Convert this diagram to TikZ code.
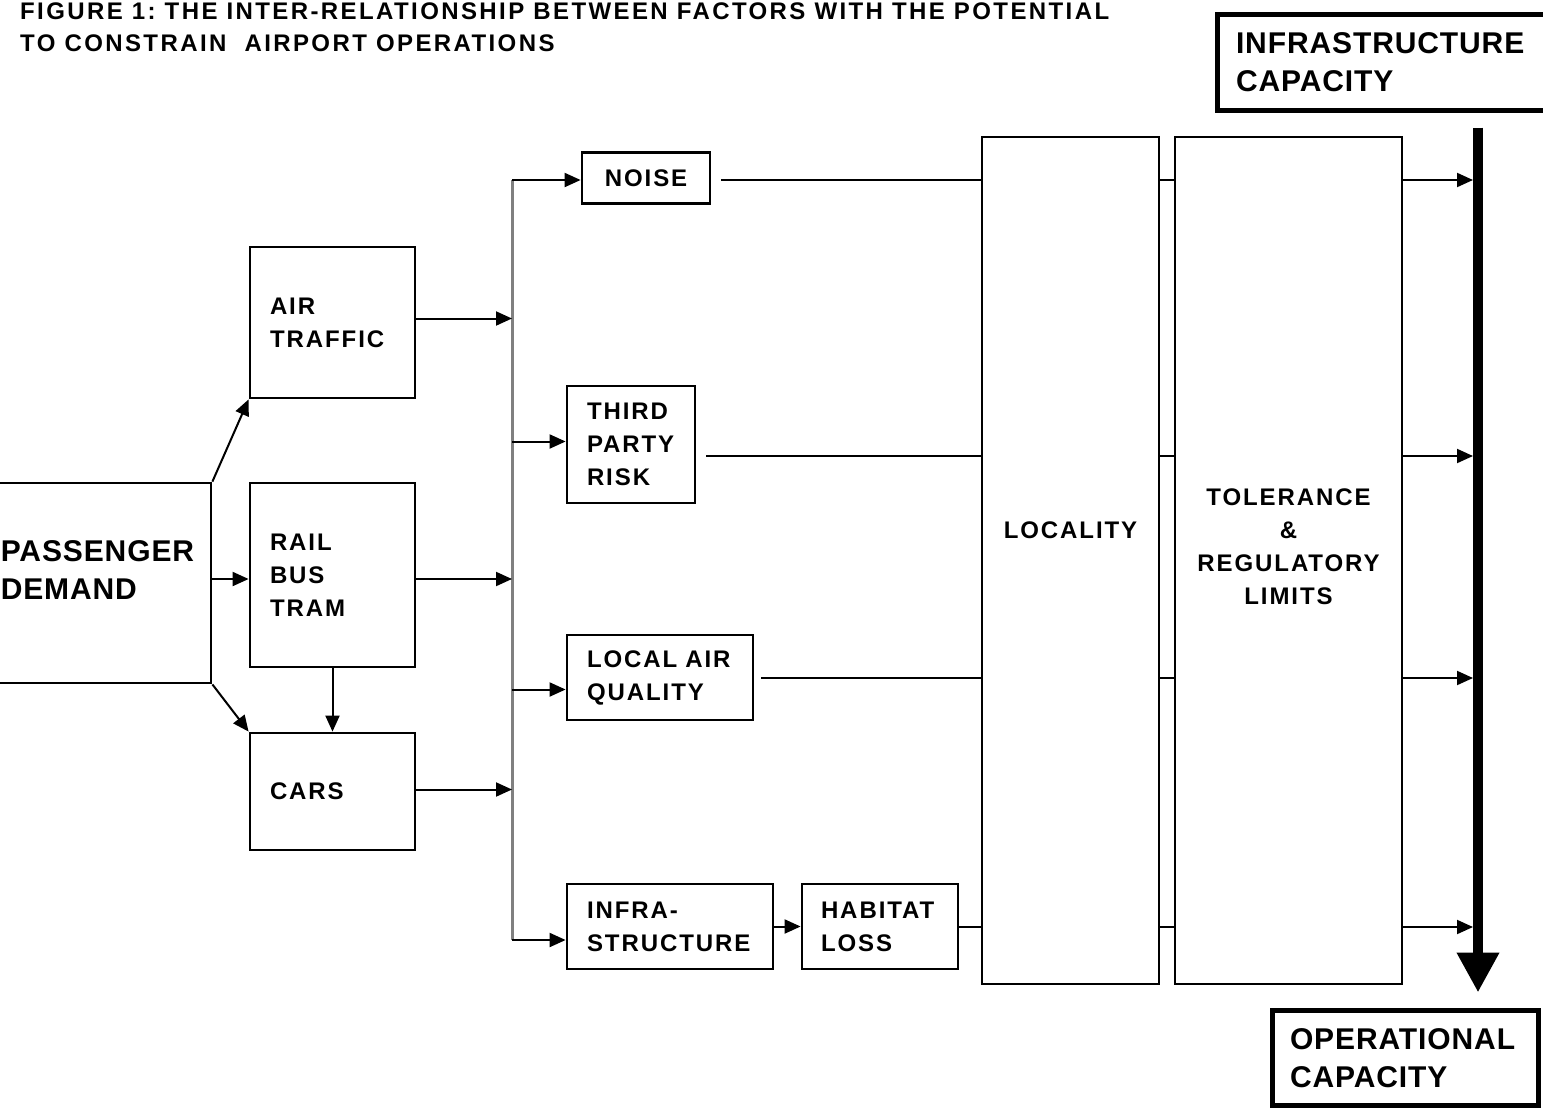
\documentclass[tikz,border=0pt]{standalone}
\usepackage{fontspec}
\setmainfont{Liberation Sans}
\newfontfamily\figtitleface[LetterSpace=10]{Liberation Sans}
\newfontfamily\factorface[LetterSpace=8]{Liberation Sans}
\newfontfamily\capacityface[LetterSpace=3]{Liberation Sans}
\newcommand\figtitlefont{\figtitleface\bfseries\fontsize{24}{32}\selectfont}
\newcommand\factorfont{\factorface\bfseries\fontsize{24}{33}\selectfont}
\newcommand\capacityfont{\capacityface\bfseries\fontsize{30}{38}\selectfont}
\hyphenpenalty=10000
\frenchspacing
\usetikzlibrary{arrows.meta}

\tikzset{
  factor/.style={draw,line width=2.8pt,inner sep=0pt,align=left,font=\factorfont},
  capacity/.style={draw,line width=5pt,inner sep=0pt,align=left,font=\capacityfont},
  link/.style={line width=2pt},
  arr/.style={link,-{Triangle[length=16pt,width=14pt]}},
  bus/.style={line width=3pt,gray},
  bar/.style={line width=10pt,-{Triangle[length=40pt,width=40pt]}}
}

\begin{document}
\begin{tikzpicture}[x=1pt,y=-1pt]
\clip (0,0) rectangle (1543,1109);
\fill[white] (0,0) rectangle (1543,1109);

\node[anchor=north west,inner sep=0pt,align=left,font=\figtitlefont] (title) at (20,3)
  {FIGURE 1: THE INTER-RELATIONSHIP BETWEEN FACTORS WITH THE POTENTIAL\\TO CONSTRAIN\ \ AIRPORT OPERATIONS};

% demand and modes
\node[factor,minimum width=262pt,minimum height=200pt,
  label={[font=\capacityfont,align=left,inner sep=0pt,anchor=west,xshift=53pt,yshift=13pt]west:PASSENGER\\DEMAND}]
  (demand) at (80,583) {};
\node[factor,minimum width=165pt,minimum height=151pt,text width=125pt] (air) at (332.5,322.5) {AIR\\TRAFFIC};
\node[factor,minimum width=165pt,minimum height=184pt,text width=125pt] (rail) at (332.5,575) {RAIL\\BUS\\TRAM};
\node[factor,minimum width=165pt,minimum height=117pt,text width=125pt] (cars) at (332.5,791.5) {CARS};

% impacts
\node[factor,minimum width=128pt,minimum height=51pt] (noise) at (646,178) {NOISE};
\node[factor,minimum width=128pt,minimum height=117pt,text width=88pt] (risk) at (631,444.5) {THIRD\\PARTY\\RISK};
\node[factor,minimum width=186pt,minimum height=85pt,text width=146pt] (airq) at (660,677.5) {LOCAL AIR\\QUALITY};
\node[factor,minimum width=206pt,minimum height=85pt,text width=166pt] (infra) at (670,926.5) {INFRA-\\STRUCTURE};
\node[factor,minimum width=156pt,minimum height=85pt,text width=118pt] (habitat) at (880,926.5) {HABITAT\\LOSS};

% limits
\node[factor,minimum width=177pt,minimum height=847pt,
  label={[font=\factorfont,yshift=30.5pt]center:LOCALITY}] (locality) at (1070.5,560.5) {};
\node[factor,minimum width=227pt,minimum height=847pt,
  label={[font=\factorfont,align=center,yshift=14pt]center:TOLERANCE\\\&\\REGULATORY\\LIMITS}] (tolerance) at (1288.5,560.5) {};

% capacities
\node[capacity,minimum width=346pt,minimum height=96pt,text width=308pt] (infracap) at (1390,62) {INFRASTRUCTURE\\CAPACITY};
\node[capacity,minimum width=266pt,minimum height=95pt,text width=230pt] (opcap) at (1405,1058) {OPERATIONAL\\CAPACITY};

\coordinate (bustop) at (512,180);
\coordinate (busend) at (512,940);
\coordinate (barx) at (1478,0);
\coordinate (r1) at (1473,180);
\coordinate (r2) at (1473,456);
\coordinate (r3) at (1473,678);
\coordinate (r4) at (1473,927);

% demand to modes
\draw[arr] (demand.north east) -- (air.south west);
\draw[arr] ([yshift=-4pt]demand.east |- rail.west) -- ([yshift=-4pt]rail.west);
\draw[arr] (demand.south east) -- (cars.north west);
\draw[arr] (rail.south) -- (cars.north);

% modes to bus
\draw[bus] (bustop) -- (busend);
\draw[arr] ([yshift=4pt]air.east) -- ([yshift=4pt]air.east -| bustop);
\draw[arr] ([yshift=-4pt]rail.east) -- ([yshift=-4pt]rail.east -| bustop);
\draw[arr] ([yshift=2pt]cars.east) -- ([yshift=2pt]cars.east -| bustop);

% bus to impacts
\draw[arr] (bustop) -- (bustop -| noise.west);
\draw[arr] ([yshift=3pt]bustop |- risk.west) -- ([yshift=3pt]risk.west);
\draw[arr] ([yshift=-12pt]bustop |- airq.west) -- ([yshift=-12pt]airq.west);
\draw[arr] (busend) -- (busend -| infra.west);
\draw[arr] (infra.east) -- (habitat.west);

% impacts to locality
\draw[link,shorten <=10pt] (noise.east |- r1) -- (locality.west |- r1);
\draw[link,shorten <=10pt] (risk.east |- r2) -- (locality.west |- r2);
\draw[link,shorten <=7pt] (airq.east |- r3) -- (locality.west |- r3);
\draw[link] (habitat.east |- r4) -- (locality.west |- r4);

\foreach \row in {r1,r2,r3,r4}{
  \draw[link] (locality.east |- \row) -- (tolerance.west |- \row);
  \draw[arr] (tolerance.east |- \row) -- (\row);
}

\draw[bar,shorten <=15pt,shorten >=15.5pt] (infracap.south -| barx) -- (opcap.north -| barx);
\end{tikzpicture}
\end{document}
